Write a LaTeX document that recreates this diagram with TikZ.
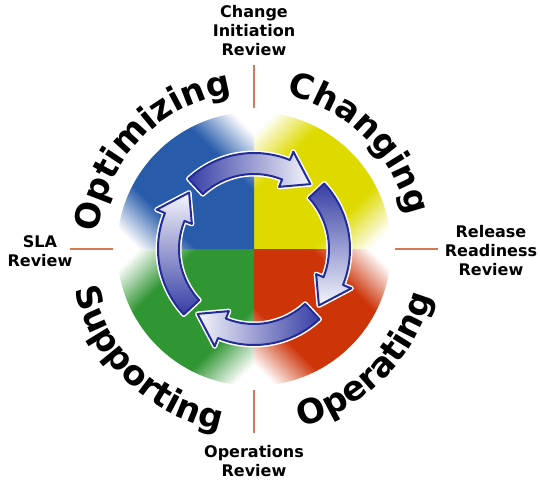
\documentclass[tikz,border=0pt]{standalone}
\usepackage{fontspec}
\newfontfamily\sansbold{DejaVu Sans}
\usetikzlibrary{decorations.text}

\definecolor{qblue}{RGB}{40,92,170}
\definecolor{qyellow}{RGB}{222,218,0}
\definecolor{qred}{RGB}{205,52,8}
\definecolor{qgreen}{RGB}{48,150,52}
\definecolor{tickcol}{RGB}{214,120,82}
\definecolor{arrowline}{RGB}{34,44,150}
\definecolor{arrowdark}{RGB}{55,62,165}
\definecolor{arrowlight}{RGB}{245,245,252}
\colorlet{quadc}{qblue}
\pgfdeclareverticalshading[quadc]{quadfade}{100bp}{color(0bp)=(white); color(20bp)=(white); color(35bp)=(quadc); color(65bp)=(quadc); color(80bp)=(white); color(100bp)=(white)}

\begin{document}
\begin{tikzpicture}[x=1pt, y=1pt,
    review/.style={font=\sansbold\bfseries\fontsize{16}{19}\selectfont, align=center, inner sep=0pt},
    tick/.style={draw=tickcol, line width=1.5pt},
    phase/.style={decorate, decoration={text along path, text align=center,
        text={|\sansbold\bfseries\fontsize{34}{34}\selectfont|#1}}},
    cyclearrow/.style={draw=arrowline, line width=2pt, line join=round,
        preaction={draw=white, line width=5pt, line join=round}}]

    \useasboundingbox (-254,-231) rectangle (286,249);

    % vier Quadranten
    \foreach \qc/\a/\sa in {qyellow/0/45, qblue/90/-45, qgreen/180/45, qred/270/-45}{
        \colorlet{quadc}{\qc}
        \shade[shading=quadfade, shading angle=\sa] (0,0) -- (\a:137)
            arc[start angle=\a, delta angle=90, radius=137] -- cycle;
    }

    % Markierungen
    \foreach \a in {0,90,180,270}
        \draw[tick] (\a:141) -- (\a:184);

    % Kreislauf-Pfeile
    \foreach \k/\sa in {0/90, 1/0, 2/-90, 3/180}{
        \pgfmathsetmacro\t{133-90*\k}
        \pgfmathsetmacro\b{68-90*\k}
        \pgfmathsetmacro\p{49-90*\k}
        \shade[cyclearrow, top color=arrowdark, bottom color=arrowlight, shading angle=\sa]
            (\t:96) arc[start angle=\t, end angle=\b, radius=96] -- (\b:105) -- (\p:86)
            -- (\b:67) -- (\b:75) arc[start angle=\b, end angle=\t, radius=75] -- cycle;
    }

    % Phasen
    \path[phase=Optimizing] (186:157) arc[start angle=186, end angle=86, radius=157];
    \path[phase=Changing] (95:157) arc[start angle=95, end angle=-5, radius=157];
    \path[phase=Supporting] (176:184) arc[start angle=176, end angle=276, radius=184];
    \path[phase=Operating] (-95:184) arc[start angle=-95, end angle=5, radius=184];

    % Reviews
    \node[review] (cir) at (0,218) {Change\\Initiation\\Review};
    \node[review] (sla) at (-214,-2) {SLA\\Review};
    \node[review] (rrr) at (237,-2) {Release\\Readiness\\Review};
    \node[review] (opr) at (0,-212) {Operations\\Review};
\end{tikzpicture}
\end{document}
